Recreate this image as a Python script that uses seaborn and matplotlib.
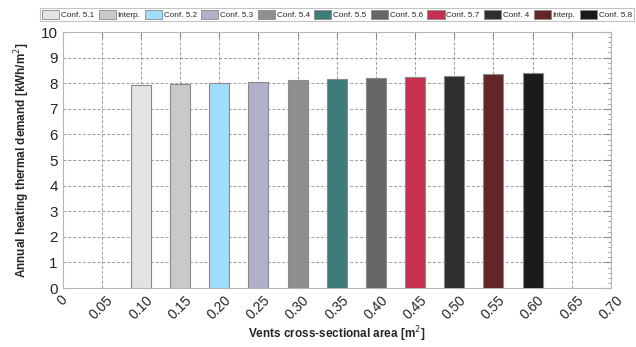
import matplotlib
matplotlib.use("Agg")
import matplotlib.pyplot as plt
import seaborn as sns
import pandas as pd
from matplotlib.patches import Patch
from matplotlib.ticker import MultipleLocator, AutoMinorLocator

# Data
areas = [0.10, 0.15, 0.20, 0.25, 0.30, 0.35, 0.40, 0.45, 0.50, 0.55, 0.60]
demand = [7.93, 7.97, 8.00, 8.06, 8.12, 8.16, 8.21, 8.25, 8.29, 8.35, 8.39]
labels = ["Conf. 5.1", "Interp.", "Conf. 5.2", "Conf. 5.3", "Conf. 5.4", "Conf. 5.5",
          "Conf. 5.6", "Conf. 5.7", "Conf. 4", "Interp.", "Conf. 5.8"]
colors = ["#E3E3E3", "#C9C9C9", "#9FDDFB", "#B0B0C8", "#8F8F8F", "#3E7C79",
          "#666666", "#C8304F", "#2F2F2F", "#632525", "#1B1B1B"]
xtick_vals = [0, 0.05, 0.10, 0.15, 0.20, 0.25, 0.30, 0.35, 0.40, 0.45, 0.50, 0.55, 0.60, 0.65, 0.70]
xtick_labels = ["0", "0.05", "0.10", "0.15", "0.20", "0.25", "0.30", "0.35", "0.40",
                "0.45", "0.50", "0.55", "0.60", "0.65", "0.70"]

sns.set_style("white")
plt.rcParams["font.family"] = ["Liberation Sans", "DejaVu Sans"]

keys = [f"{a:.2f}" for a in areas]
df = pd.DataFrame({"area": areas, "demand": demand, "key": keys})
pal = dict(zip(keys, colors))

fig = plt.figure(figsize=(6.36, 3.47), dpi=100)
ax = fig.add_axes([62.5 / 636, 1 - 288 / 347, (611 - 62.5) / 636, (288 - 32) / 347])

sns.barplot(data=df, x="area", y="demand", hue="key", palette=pal, native_scale=True,
            width=0.51, legend=False, edgecolor="#8a8a8a", linewidth=0.8, saturation=1,
            ax=ax, zorder=3)

ax.set_xlim(0, 0.70)
ax.set_ylim(0, 10)
ax.yaxis.set_major_locator(MultipleLocator(1))
ax.yaxis.set_minor_locator(AutoMinorLocator(5))
ax.set_xticks(xtick_vals)
ax.set_xticklabels(xtick_labels, rotation=45, ha="center", va="top", fontsize=10, color="#262626")
for lab in ax.get_yticklabels():
    lab.set_fontsize(11)
    lab.set_color("#262626")

ax.grid(True, which="major", linestyle=(0, (3, 2)), color="#9a9a9a", linewidth=0.7, zorder=0)
ax.set_axisbelow(True)
ax.tick_params(which="both", direction="in", top=True, right=True, colors="#8a8a8a",
               labelcolor="#262626")
ax.tick_params(which="major", length=4)
ax.tick_params(which="minor", length=2)
ax.tick_params(axis="x", which="minor", bottom=False, top=False)
for s in ax.spines.values():
    s.set_color("#b5b5b5")
    s.set_linewidth(0.8)

ax.set_xlabel("Vents cross-sectional area [m$^2$]", fontsize=8.5, fontweight="bold",
              color="#262626", labelpad=2)
ax.set_ylabel("Annual heating thermal demand [kWh/m$^2$]", fontsize=8.5, fontweight="bold",
              color="#262626", labelpad=6)

handles = [Patch(facecolor=c, edgecolor="#8a8a8a", linewidth=0.6) for c in colors]
leg = fig.legend(handles, labels, loc="lower left",
                 bbox_to_anchor=(40 / 636, 1 - 21 / 347, 594 / 636, 18 / 347), mode="expand",
                 ncol=11, fontsize=5.9, frameon=True, handlelength=2.1, handleheight=1.3,
                 handletextpad=0.2, columnspacing=0.1, borderpad=0.25, borderaxespad=0,
                 fancybox=False)
leg.get_frame().set_edgecolor("#b5b5b5")
leg.get_frame().set_linewidth(0.8)

fig.savefig("out.png", dpi=100)
